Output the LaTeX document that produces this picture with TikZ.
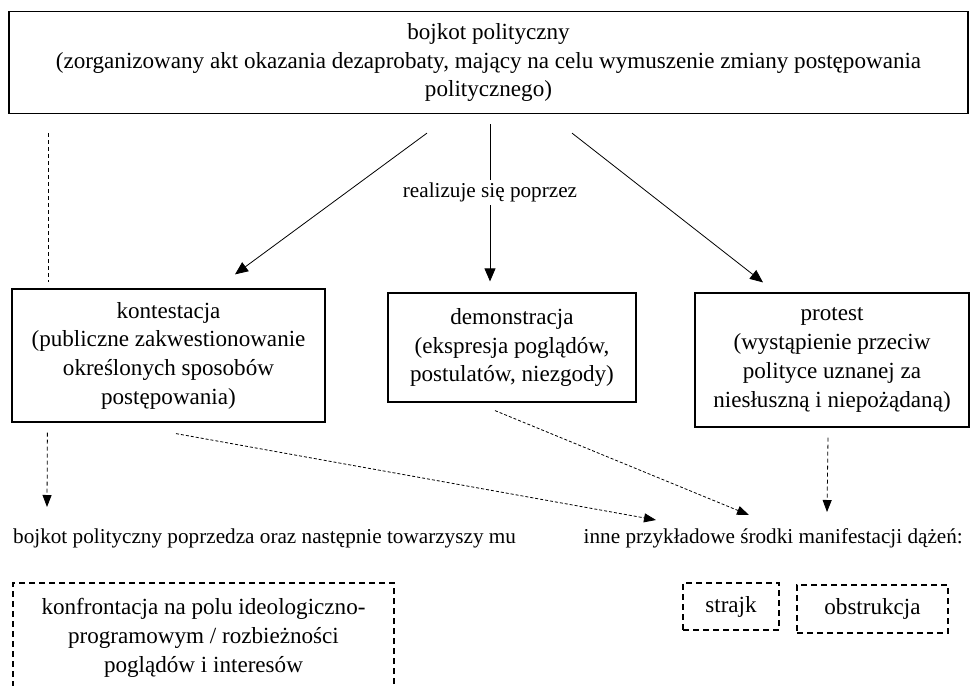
\documentclass[tikz,border=0pt]{standalone}
\usepackage{fontspec}
\setmainfont{Liberation Serif}
\usetikzlibrary{arrows.meta}
\begin{document}
\begin{tikzpicture}[x=1pt,y=-1pt,
  box/.style={draw,line width=1.2pt,inner sep=0pt,align=center,font=\fontsize{23.1}{28.7}\selectfont},
  dbox/.style={box,dash pattern=on 6pt off 4pt},
  lbl/.style={inner sep=0pt,font=\fontsize{21.2}{26}\selectfont},
  arr/.style={line width=0.8pt,-{Triangle[length=13pt,width=11pt]}},
  darr/.style={line width=0.8pt,dash pattern=on 3pt off 2pt,-{Triangle[length=12pt,width=9pt]}},
  dline/.style={line width=0.8pt,dash pattern=on 4pt off 3pt}]
\useasboundingbox (0,0) rectangle (971,685);
\clip (0,0) rectangle (971,685);
\fill[white] (0,0) rectangle (971,685);

\node[box,minimum width=959pt,minimum height=102pt] (top) at (488.5,62.5) {bojkot polityczny\\(zorganizowany akt okazania dezaprobaty, mający na celu wymuszenie zmiany postępowania\\politycznego)};
\node[box,minimum width=313pt,minimum height=133pt] (kont) at (168.5,355.5) {kontestacja\\(publiczne zakwestionowanie\\określonych sposobów\\postępowania)};
\node[box,minimum width=248pt,minimum height=109pt] (demo) at (512,347.5) {demonstracja\\(ekspresja poglądów,\\postulatów, niezgody)};
\node[box,minimum width=274pt,minimum height=134pt] (prot) at (832,360) {protest\\(wystąpienie przeciw\\polityce uznanej za\\niesłuszną i niepożądaną)};
\node[lbl,anchor=west] (llbl) at (13,538) {bojkot polityczny poprzedza oraz następnie towarzyszy mu};
\node[lbl,anchor=east] (rlbl) at (963,538) {inne przykładowe środki manifestacji dążeń:};
\node[dbox,minimum width=381pt,minimum height=110pt] (konf) at (203.5,638) {konfrontacja na polu ideologiczno-\\programowym / rozbieżności\\poglądów i interesów};
\node[dbox,minimum width=96pt,minimum height=47pt] (strajk) at (731,606.5) {strajk};
\node[dbox,minimum width=151pt,minimum height=48pt] (obstr) at (872.5,609) {obstrukcja};

\draw[arr] ([xshift=-61.5pt,yshift=-19pt]top.south) -- ([xshift=66.5pt,yshift=14pt]kont.north);
\draw[arr] ([xshift=1.5pt,yshift=-10pt]top.south) -- node[lbl,pos=0.434,fill=white,inner sep=3pt] (real) {realizuje się poprzez} ([xshift=-22pt,yshift=11pt]demo.north);
\draw[arr] ([xshift=83.5pt,yshift=-19pt]top.south) -- ([xshift=-69pt,yshift=10pt]prot.north);
\draw[dline] ([xshift=40pt,yshift=-19pt]top.south west) -- ([xshift=37pt,yshift=6pt]kont.north west);
\draw[darr,dash pattern=on 4pt off 3pt] ([xshift=36pt,yshift=-10pt]kont.south west) -- ([xshift=34pt,yshift=31pt]llbl.west);
\draw[darr] ([xshift=7.5pt,yshift=-11pt]kont.south) -- ([xshift=-307pt,yshift=18pt]rlbl.east);
\draw[darr] ([xshift=-17pt,yshift=-8pt]demo.south) -- ([xshift=-214pt,yshift=23pt]rlbl.east);
\draw[darr,dash pattern=on 4pt off 3pt] ([xshift=-4pt,yshift=-10pt]prot.south) -- ([xshift=-136pt,yshift=26pt]rlbl.east);
\end{tikzpicture}
\end{document}
